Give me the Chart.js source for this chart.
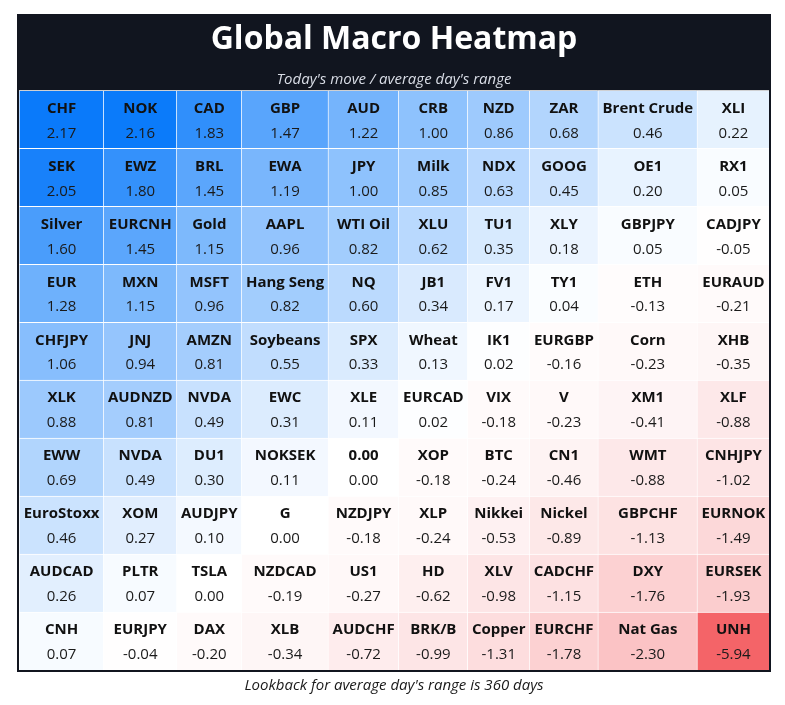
<!DOCTYPE html>
<html>
<head>
<meta charset="utf-8">
<script src="https://cdn.jsdelivr.net/npm/chart.js@4.4.1/dist/chart.umd.min.js"></script>
<style>
  html, body { margin: 0; padding: 0; background: #ffffff; }
  #c { display: block; }
</style>
</head>
<body>
<canvas id="c" width="785" height="705"></canvas>
<script>
// ---------------- DATA ----------------
const titleText = 'Global Macro Heatmap';
const subtitleText = "Today's move / average day's range";
const footerText = "Lookback for average day's range is 360 days";

const tickers = [
  ['CHF', 'NOK', 'CAD', 'GBP', 'AUD', 'CRB', 'NZD', 'ZAR', 'Brent Crude', 'XLI'],
  ['SEK', 'EWZ', 'BRL', 'EWA', 'JPY', 'Milk', 'NDX', 'GOOG', 'OE1', 'RX1'],
  ['Silver', 'EURCNH', 'Gold', 'AAPL', 'WTI Oil', 'XLU', 'TU1', 'XLY', 'GBPJPY', 'CADJPY'],
  ['EUR', 'MXN', 'MSFT', 'Hang Seng', 'NQ', 'JB1', 'FV1', 'TY1', 'ETH', 'EURAUD'],
  ['CHFJPY', 'JNJ', 'AMZN', 'Soybeans', 'SPX', 'Wheat', 'IK1', 'EURGBP', 'Corn', 'XHB'],
  ['XLK', 'AUDNZD', 'NVDA', 'EWC', 'XLE', 'EURCAD', 'VIX', 'V', 'XM1', 'XLF'],
  ['EWW', 'NVDA', 'DU1', 'NOKSEK', '0.00', 'XOP', 'BTC', 'CN1', 'WMT', 'CNHJPY'],
  ['EuroStoxx', 'XOM', 'AUDJPY', 'G', 'NZDJPY', 'XLP', 'Nikkei', 'Nickel', 'GBPCHF', 'EURNOK'],
  ['AUDCAD', 'PLTR', 'TSLA', 'NZDCAD', 'US1', 'HD', 'XLV', 'CADCHF', 'DXY', 'EURSEK'],
  ['CNH', 'EURJPY', 'DAX', 'XLB', 'AUDCHF', 'BRK/B', 'Copper', 'EURCHF', 'Nat Gas', 'UNH']
];

const moves = [
  [2.17, 2.16, 1.83, 1.47, 1.22, 1.00, 0.86, 0.68, 0.46, 0.22],
  [2.05, 1.80, 1.45, 1.19, 1.00, 0.85, 0.63, 0.45, 0.20, 0.05],
  [1.60, 1.45, 1.15, 0.96, 0.82, 0.62, 0.35, 0.18, 0.05, -0.05],
  [1.28, 1.15, 0.96, 0.82, 0.60, 0.34, 0.17, 0.04, -0.13, -0.21],
  [1.06, 0.94, 0.81, 0.55, 0.33, 0.13, 0.02, -0.16, -0.23, -0.35],
  [0.88, 0.81, 0.49, 0.31, 0.11, 0.02, -0.18, -0.23, -0.41, -0.88],
  [0.69, 0.49, 0.30, 0.11, 0.00, -0.18, -0.24, -0.46, -0.88, -1.02],
  [0.46, 0.27, 0.10, 0.00, -0.18, -0.24, -0.53, -0.89, -1.13, -1.49],
  [0.26, 0.07, 0.00, -0.19, -0.27, -0.62, -0.98, -1.15, -1.76, -1.93],
  [0.07, -0.04, -0.20, -0.34, -0.72, -0.99, -1.31, -1.78, -2.30, -5.94]
];

// ---------------- STYLE ----------------
const FONT = '"Open Sans", "DejaVu Sans", sans-serif';
const labelFont = 'bold 15px ' + FONT;
const valueFont = '15px ' + FONT;
const BLUE = [10, 122, 250];
const RED = [244, 100, 104];
const DARK = '#11151f';

function build() {
  const nRows = tickers.length;
  const nCols = tickers[0].length;

  // column widths follow the text they hold (like an auto-sized table)
  const mctx = document.createElement('canvas').getContext('2d');
  const textW = (t, f) => { mctx.font = f; return mctx.measureText(t).width; };
  const colUnits = [];
  for (let j = 0; j < nCols; j++) {
    let w = 0;
    for (let i = 0; i < nRows; i++) {
      w = Math.max(w, textW(tickers[i][j], labelFont), textW(moves[i][j].toFixed(2), valueFont));
    }
    colUnits.push(w + 8);
  }
  const colEdges = [0];
  colUnits.forEach(u => colEdges.push(colEdges[colEdges.length - 1] + u));
  const totalUnits = colEdges[colEdges.length - 1];

  const all = moves.flat();
  const maxPos = Math.max(...all);
  const minNeg = Math.min(...all);
  const mix = (c, t) => 'rgb(' + c.map(ch => Math.round(255 + (ch - 255) * t)).join(',') + ')';
  const cellColor = v => v >= 0 ? mix(BLUE, v / maxPos) : mix(RED, v / minNeg);

  const rowLabels = tickers.map((_, i) => 'row' + (i + 1));

  const datasets = [];
  for (let j = 0; j < nCols; j++) {
    datasets.push({
      label: 'col' + (j + 1),
      data: rowLabels.map(() => [colEdges[j], colEdges[j + 1]]),
      backgroundColor: ctx => cellColor(moves[ctx.dataIndex][j]),
      borderColor: '#ffffff',
      borderWidth: { top: 1, left: 1, right: 0, bottom: 0 },
      borderSkipped: false,
      grouped: false,
      barPercentage: 1,
      categoryPercentage: 1
    });
  }

  const cardPlugin = {
    id: 'card',
    beforeDraw(chart) {
      const { ctx, chartArea: a } = chart;
      ctx.save();
      ctx.fillStyle = '#ffffff';
      ctx.fillRect(0, 0, chart.width, chart.height);
      ctx.fillStyle = DARK;
      ctx.fillRect(a.left - 2, 14, a.right - a.left + 4, a.top - 14);
      ctx.restore();
    },
    afterDraw(chart) {
      const { ctx, chartArea: a } = chart;
      ctx.save();
      ctx.strokeStyle = DARK;
      ctx.lineWidth = 2;
      ctx.strokeRect(a.left - 1, 15, a.right - a.left + 2, a.bottom - 15 + 1);
      ctx.fillStyle = '#1a1a1a';
      ctx.font = 'italic 15px ' + FONT;
      ctx.textAlign = 'center';
      ctx.textBaseline = 'middle';
      ctx.fillText(footerText, (a.left + a.right) / 2, a.bottom + 16);
      ctx.restore();
    }
  };

  const cellTextPlugin = {
    id: 'cellText',
    afterDatasetsDraw(chart) {
      const ctx = chart.ctx;
      ctx.save();
      ctx.textAlign = 'center';
      ctx.textBaseline = 'middle';
      chart.data.datasets.forEach((ds, j) => {
        chart.getDatasetMeta(j).data.forEach((el, i) => {
          const p = el.getProps(['x', 'y', 'base', 'height'], true);
          const cx = (p.x + p.base) / 2 + 0.5;
          const cy = p.y + 1.5;
          const off = p.height * 0.215;
          ctx.fillStyle = '#111111';
          ctx.font = labelFont;
          ctx.fillText(tickers[i][j], cx, cy - off);
          ctx.fillStyle = '#1a1a1a';
          ctx.font = valueFont;
          ctx.fillText(moves[i][j].toFixed(2), cx, cy + off);
        });
      });
      ctx.restore();
    }
  };

  new Chart(document.getElementById('c'), {
    type: 'bar',
    data: { labels: rowLabels, datasets },
    options: {
      indexAxis: 'y',
      responsive: false,
      animation: false,
      events: [],
      layout: { padding: { top: 16, left: 19, right: 16, bottom: 35 } },
      scales: {
        x: { type: 'linear', min: 0, max: totalUnits, display: false },
        y: { type: 'category', display: false, offset: true }
      },
      plugins: {
        legend: { display: false },
        tooltip: { enabled: false },
        title: {
          display: true,
          text: titleText,
          color: '#ffffff',
          font: { family: FONT, size: 32, weight: 'bold', lineHeight: 1.2 },
          padding: { top: 5, bottom: 11 }
        },
        subtitle: {
          display: true,
          text: subtitleText,
          color: '#d9dde6',
          font: { family: FONT, size: 15, style: 'italic', lineHeight: 1.2 },
          padding: { top: 0, bottom: 2 }
        }
      }
    },
    plugins: [cardPlugin, cellTextPlugin]
  });
}

const ready = (document.fonts && document.fonts.load)
  ? Promise.all([
      document.fonts.load('bold 15px "Open Sans"'),
      document.fonts.load('15px "Open Sans"'),
      document.fonts.load('italic 15px "Open Sans"'),
      document.fonts.load('bold 32px "Open Sans"')
    ]).catch(() => null)
  : Promise.resolve();
ready.then(build);
</script>
</body>
</html>
